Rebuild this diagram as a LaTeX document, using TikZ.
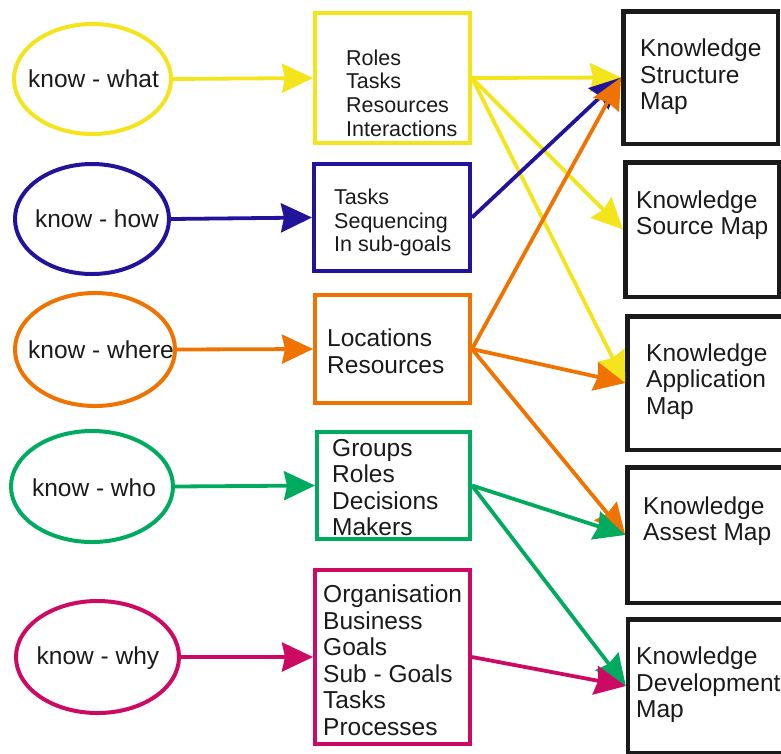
\documentclass[tikz,border=0pt]{standalone}
\usepackage{fontspec}
\setmainfont{Liberation Sans}
\usetikzlibrary{shapes.geometric,arrows.meta}
\definecolor{cyel}{HTML}{F4E41C}
\definecolor{cblu}{HTML}{22149A}
\definecolor{cora}{HTML}{EF7300}
\definecolor{cgrn}{HTML}{00AA5E}
\definecolor{cmag}{HTML}{CC0A63}
\definecolor{cblk}{HTML}{1A1A1A}
\begin{document}
\begin{tikzpicture}[x=1pt,y=-1pt,
  ell/.style={draw,ellipse,line width=4pt,inner sep=0pt},
  etxt/.style={inner sep=0pt,text=cblk,font=\fontsize{24.5}{26}\selectfont},
  cbox/.style={draw,rectangle,line width=4pt,inner sep=0pt},
  kbox/.style={draw=cblk,rectangle,line width=4.5pt,inner sep=0pt},
  txt/.style={anchor=west,align=left,inner sep=0pt,text=cblk,font=\fontsize{24.5}{26.5}\selectfont},
  stxt/.style={anchor=west,align=left,inner sep=0pt,text=cblk,font=\fontsize{21.5}{23.7}\selectfont},
  arr/.style={line width=3.8pt,-{Stealth[length=31pt,width=29pt,inset=3pt]}}
]
\useasboundingbox (0,0) rectangle (781,753);
% ellipses
\node[ell,draw=cyel,minimum width=157pt,minimum height=110pt] (ewhat) at (92.5,79) {};
\node[ell,draw=cblu,minimum width=154pt,minimum height=110pt] (ehow) at (92,219) {};
\node[ell,draw=cora,minimum width=160pt,minimum height=113pt] (ewhere) at (95,349.5) {};
\node[ell,draw=cgrn,minimum width=162pt,minimum height=111pt] (ewho) at (92,486.5) {};
\node[ell,draw=cmag,minimum width=163pt,minimum height=112pt] (ewhy) at (97.5,657) {};
\node[etxt] (lwhat) at (93.5,79) {know - what};
\node[etxt] (lhow) at (97,219) {know - how};
\node[etxt] (lwhere) at (101,350) {know - where};
\node[etxt] (lwho) at (94,488) {know - who};
\node[etxt] (lwhy) at (98,658) {know - why};
% coloured boxes
\node[cbox,draw=cyel,minimum width=155pt,minimum height=130pt] (bwhat) at (392.5,78) {};
\node[cbox,draw=cblu,minimum width=156pt,minimum height=107pt] (bhow) at (392,217.5) {};
\node[cbox,draw=cora,minimum width=155pt,minimum height=108pt] (bwhere) at (392.5,349) {};
\node[cbox,draw=cgrn,minimum width=153pt,minimum height=107pt] (bwho) at (393.5,485.5) {};
\node[cbox,draw=cmag,minimum width=155pt,minimum height=174pt] (bwhy) at (392.5,657) {};
\node[stxt] (twhat) at (346,93) {Roles\\Tasks\\Resources\\Interactions};
\node[stxt] (thow) at (334,222.5) {Tasks\\Sequencing\\In sub-goals};
\node[txt] (twhere) at (327,351) {Locations\\Resources};
\node[txt] (twho) at (332,487.5) {Groups\\Roles\\Decisions\\Makers};
\node[txt] (twhy) at (323,660) {Organisation\\Business\\Goals\\Sub - Goals\\Tasks\\Processes};
% black boxes
\node[kbox,minimum width=154.5pt,minimum height=132.5pt] (kstr) at (700.5,77.5) {};
\node[kbox,minimum width=153.5pt,minimum height=134.5pt] (ksrc) at (702,229.5) {};
\node[kbox,minimum width=170pt,minimum height=133.5pt] (kapp) at (712.5,383) {};
\node[kbox,minimum width=170pt,minimum height=135.5pt] (kass) at (712.5,535) {};
\node[kbox,minimum width=170pt,minimum height=133.5pt] (kdev) at (713,686) {};
\node[txt] (tstr) at (640,77) {Knowledge\\Structure\\Map};
\node[txt] (tsrc) at (636,215) {Knowledge\\Source Map};
\node[txt] (tapp) at (646,381.5) {Knowledge\\Application\\Map};
\node[txt] (tass) at (643,521) {Knowledge\\Assest Map};
\node[txt] (tdev) at (636,685) {Knowledge\\Development\\Map};
% arrows ellipse -> box
\draw[arr,cyel] (ewhat.east) -- (bwhat.west);
\draw[arr,cblu] (ehow.east) -- (bhow.west);
\draw[arr,cora] (ewhere.east) -- (bwhere.west);
\draw[arr,cgrn] (ewho.east) -- (bwho.west);
\draw[arr,cmag] (ewhy.east) -- (bwhy.west);
% arrows box -> map
\draw[arr,cyel] (bwhat.east) -- (kapp.west);
\draw[arr,cyel] (bwhat.east) -- (ksrc.west);
\draw[arr,cyel] (bwhat.east) -- (kstr.west);
\draw[arr,cblu] (bhow.east) -- (kstr.west);
\draw[arr,cora] (bwhere.east) -- (kstr.west);
\draw[arr,cora] (bwhere.east) -- (kapp.west);
\draw[arr,cora] (bwhere.east) -- (kass.west);
\draw[arr,cgrn] (bwho.east) -- (kass.west);
\draw[arr,cgrn] (bwho.east) -- (kdev.west);
\draw[arr,cmag] (bwhy.east) -- (kdev.west);
\end{tikzpicture}
\end{document}
